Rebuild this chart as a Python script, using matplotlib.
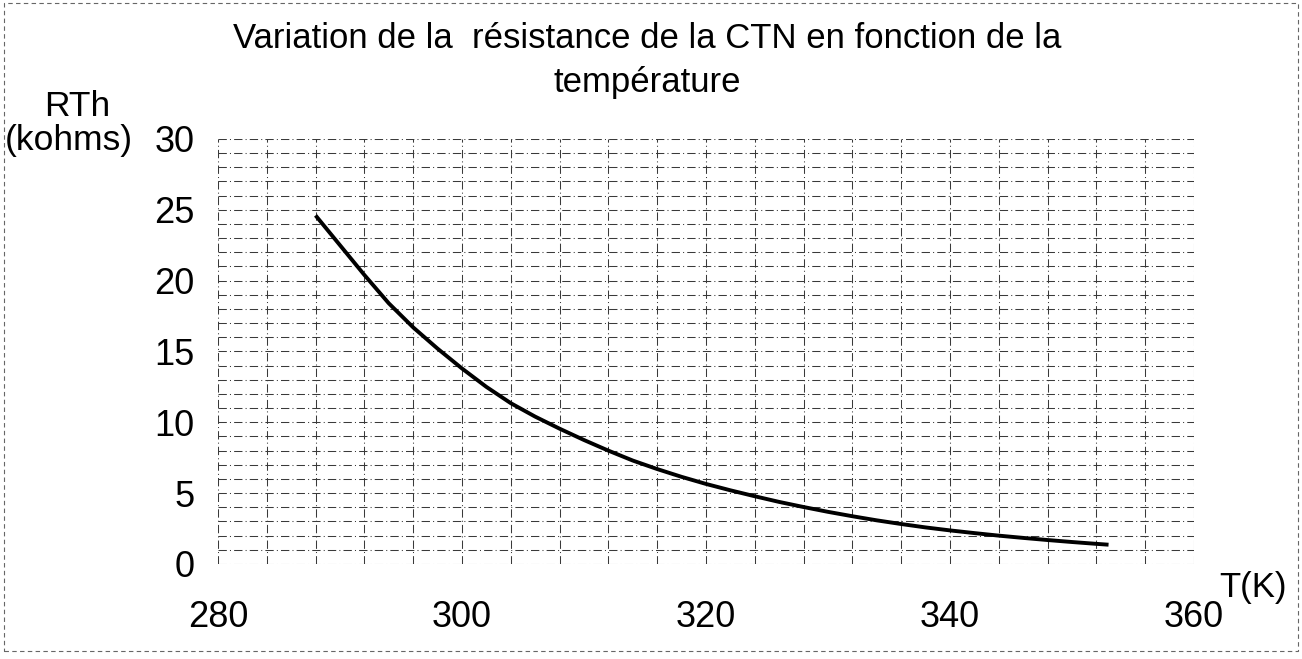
import numpy as np
import matplotlib.pyplot as plt
from matplotlib.patches import Rectangle

plt.rcParams['font.family'] = ['Liberation Sans', 'DejaVu Sans']

# temperature (K) and resistance (kohms)
T = [288, 290, 292, 294, 296, 298, 300, 302, 304, 306, 308, 310, 312, 314, 316, 318,
     320, 322, 324, 326, 328, 330, 332, 334, 336, 338, 340, 342, 344, 346, 348, 350,
     352, 353]
R = [24.6, 22.5, 20.4, 18.4, 16.7, 15.2, 13.8, 12.5, 11.35, 10.4, 9.55, 8.75, 8.0, 7.3,
     6.7, 6.15, 5.65, 5.2, 4.78, 4.38, 4.02, 3.68, 3.37, 3.08, 2.82, 2.58, 2.37, 2.18,
     2.0, 1.84, 1.69, 1.55, 1.42, 1.36]

x_ticks = [280, 300, 320, 340, 360]
y_ticks = [0, 5, 10, 15, 20, 25, 30]

fig = plt.figure(figsize=(13.02, 6.59), dpi=100)
ax = fig.add_axes([0.1674, 0.1442, 0.7496, 0.645])

ax.plot(T, R, color='black', lw=2.8, solid_capstyle='butt')

ax.set_xlim(280, 360)
ax.set_ylim(0, 30)
ax.set_xticks(x_ticks)
ax.set_yticks(y_ticks)
ax.set_xticks(np.arange(280, 361, 4), minor=True)
ax.set_yticks(np.arange(0, 31, 1), minor=True)

gs = dict(color='#3a3a3a', lw=0.75, ls=(0, (8, 3, 1, 3)))
ax.grid(True, which='both', axis='x', **gs)
ax.grid(True, which='both', axis='y', **gs)
ax.tick_params(which='both', length=0)
ax.tick_params(axis='x', labelsize=26, pad=26)
ax.tick_params(axis='y', labelsize=26, pad=17)
for s in ax.spines.values():
    s.set_visible(False)

fig.text(0.497, 0.942, "Variation de la  résistance de la CTN en fonction de la",
         ha='center', va='center', fontsize=25)
fig.text(0.497, 0.875, "température", ha='center', va='center', fontsize=25)
fig.text(0.059, 0.838, "RTh", ha='center', va='center', fontsize=25.5)
fig.text(0.053, 0.787, "(kohms)", ha='center', va='center', fontsize=25.5)
fig.text(0.962, 0.108, "T(K)", ha='center', va='center', fontsize=25)

# dashed frame around the whole chart
fig.patches.append(Rectangle((0.003, 0.012), 0.994, 0.983, transform=fig.transFigure,
                             fill=False, ec='#666666', lw=0.8, ls=(0, (4, 3))))

fig.savefig('out.png', dpi=100)
